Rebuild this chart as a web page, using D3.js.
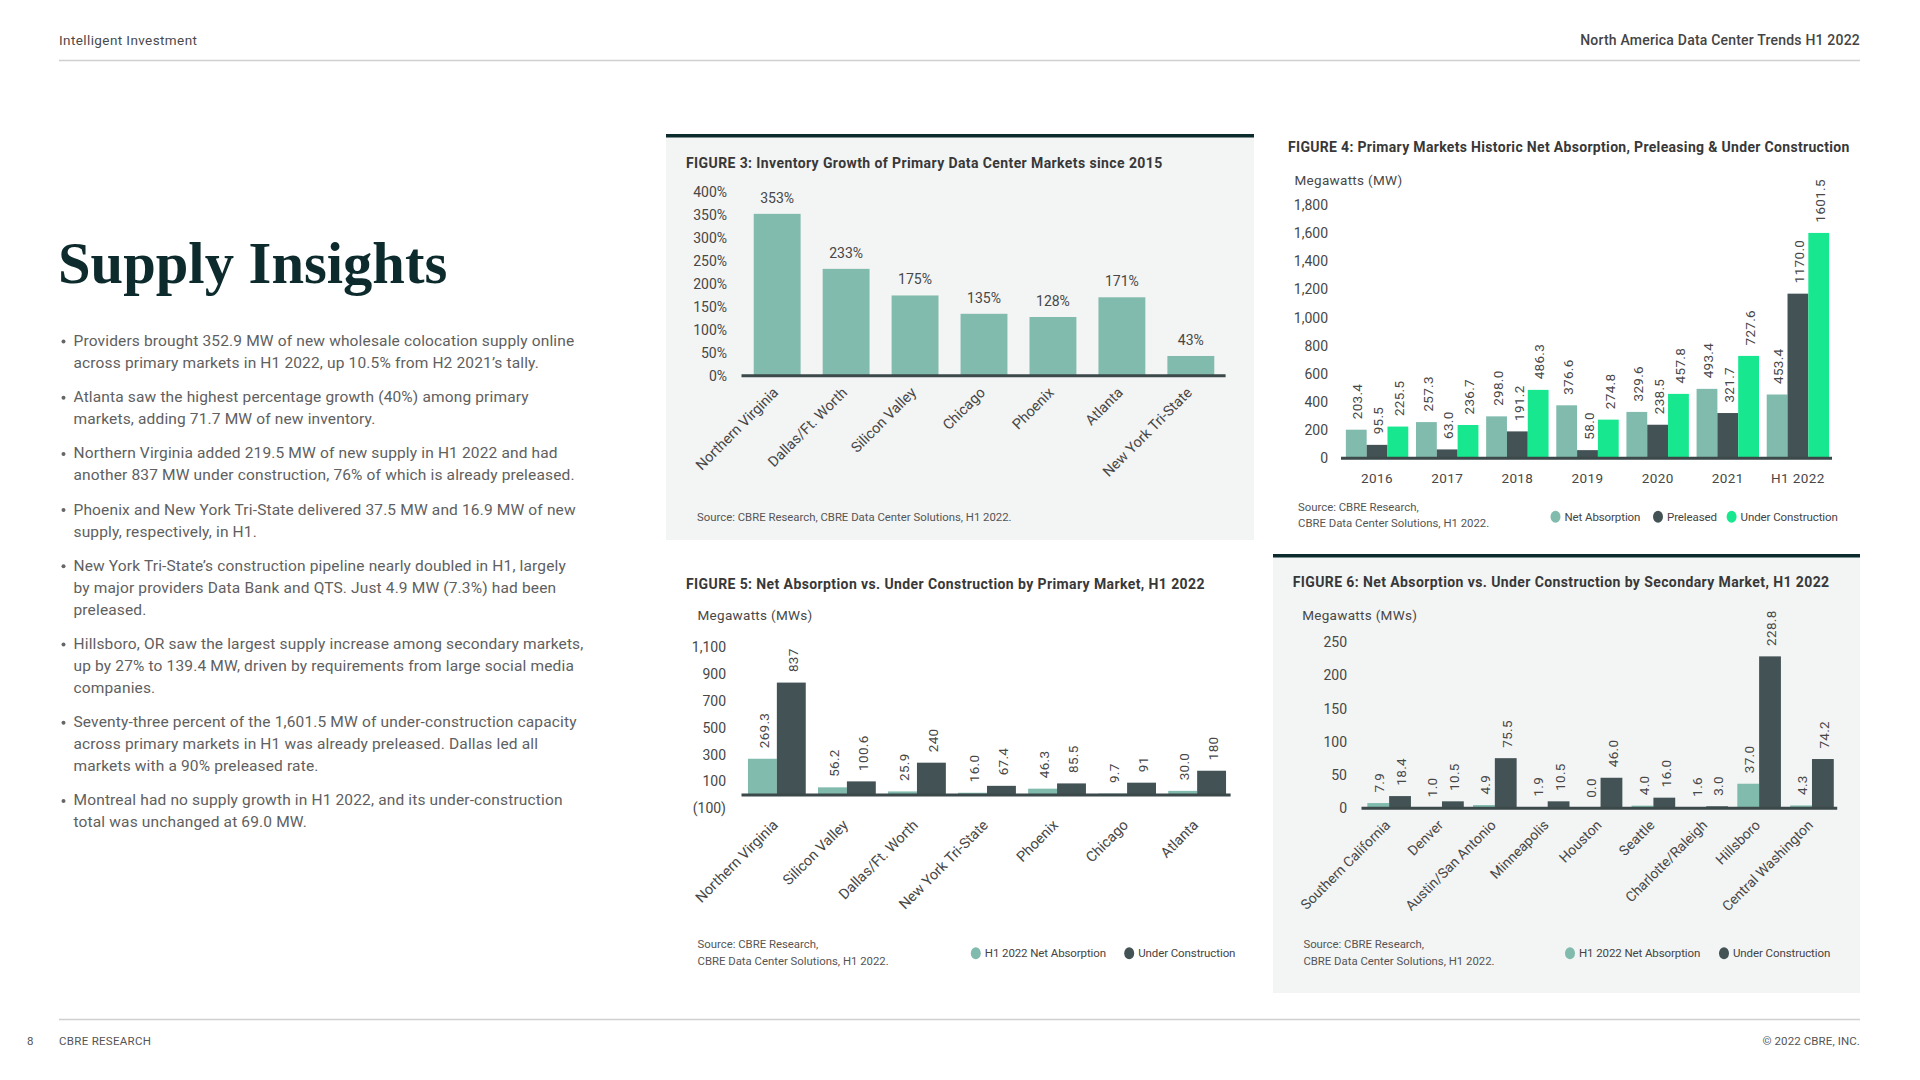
<!DOCTYPE html>
<html><head><meta charset="utf-8">
<script src="https://cdn.jsdelivr.net/npm/d3@7"></script>
<style>
html,body{margin:0;padding:0;background:#fff;}
svg{display:block;font-family:Roboto,"Noto Sans",sans-serif;}
</style></head><body>
<svg id="page" width="1920" height="1080"></svg>
<script>
// ---------- DATA ----------
const fig3Markets = ["Northern Virginia","Dallas/Ft. Worth","Silicon Valley","Chicago","Phoenix","Atlanta","New York Tri-State"];
const fig3Growth = [353,233,175,135,128,171,43];
const fig3Ticks = [0,50,100,150,200,250,300,350,400];

const fig4Periods = ["2016","2017","2018","2019","2020","2021","H1 2022"];
const fig4NetAbsorption = [203.4,257.3,298.0,376.6,329.6,493.4,453.4];
const fig4Preleased = [95.5,63.0,191.2,58.0,238.5,321.7,1170.0];
const fig4UnderConstruction = [225.5,236.7,486.3,274.8,457.8,727.6,1601.5];
const fig4Ticks = [0,200,400,600,800,1000,1200,1400,1600,1800];
const fig4Legend = ["Net Absorption","Preleased","Under Construction"];

const fig5Markets = ["Northern Virginia","Silicon Valley","Dallas/Ft. Worth","New York Tri-State","Phoenix","Chicago","Atlanta"];
const fig5NetAbsorption = [269.3,56.2,25.9,16.0,46.3,9.7,30.0];
const fig5UnderConstruction = [837,100.6,240,67.4,85.5,91,180];
const fig5Ticks = [-100,100,300,500,700,900,1100];

const fig6Markets = ["Southern California","Denver","Austin/San Antonio","Minneapolis","Houston","Seattle","Charlotte/Raleigh","Hillsboro","Central Washington"];
const fig6NetAbsorption = [7.9,1.0,4.9,1.9,0.0,4.0,1.6,37.0,4.3];
const fig6UnderConstruction = [18.4,10.5,75.5,10.5,46.0,16.0,3.0,228.8,74.2];
const fig6Ticks = [0,50,100,150,200,250];
const marketLegend = ["H1 2022 Net Absorption","Under Construction"];

const bullets = [
  ["Providers brought 352.9 MW of new wholesale colocation supply online","across primary markets in H1 2022, up 10.5% from H2 2021\u2019s tally."],
  ["Atlanta saw the highest percentage growth (40%) among primary","markets, adding 71.7 MW of new inventory."],
  ["Northern Virginia added 219.5 MW of new supply in H1 2022 and had","another 837 MW under construction, 76% of which is already preleased."],
  ["Phoenix and New York Tri-State delivered 37.5 MW and 16.9 MW of new","supply, respectively, in H1."],
  ["New York Tri-State\u2019s construction pipeline nearly doubled in H1, largely","by major providers Data Bank and QTS. Just 4.9 MW (7.3%) had been","preleased."],
  ["Hillsboro, OR saw the largest supply increase among secondary markets,","up by 27% to 139.4 MW, driven by requirements from large social media","companies."],
  ["Seventy-three percent of the 1,601.5 MW of under-construction capacity","across primary markets in H1 was already preleased. Dallas led all","markets with a 90% preleased rate."],
  ["Montreal had no supply growth in H1 2022, and its under-construction","total was unchanged at 69.0 MW."]
];

// ---------- STYLE ----------
const C_NA = "#80bbad", C_DARK = "#435254", C_UC = "#17e88f";
const C_AXIS = "#3c494a", C_TXT = "#474747", C_TITLE = "#383838", C_PANEL = "#f3f4f4", C_BAR = "#0b2b2d";
const FONT = "Roboto, 'Noto Sans', sans-serif";

const page = d3.select("#page");

function txt(g, x, y, s, o = {}) {
  const t = g.append("text").attr("x", x).attr("y", y).text(s)
    .attr("font-size", o.size || 13).attr("fill", o.fill || C_TXT)
    .attr("font-family", o.family || FONT);
  if (o.weight) t.attr("font-weight", o.weight);
  if (o.anchor) t.attr("text-anchor", o.anchor);
  if (o.ls != null) t.attr("letter-spacing", o.ls);
  return t;
}

// ---------- PAGE CHROME ----------
txt(page, 59, 44.5, "Intelligent Investment", {size: 13.5, fill: "#4a4a4a", ls: 0.4});
txt(page, 1860, 45, "North America Data Center Trends H1 2022", {size: 14, fill: "#444", weight: 500, anchor: "end", ls: 0.2});
page.append("line").attr("x1", 59).attr("x2", 1860).attr("y1", 60.5).attr("y2", 60.5).attr("stroke", "#cfcfcf").attr("stroke-width", 1.5);
page.append("line").attr("x1", 59).attr("x2", 1860).attr("y1", 1019.5).attr("y2", 1019.5).attr("stroke", "#cfcfcf").attr("stroke-width", 1.5);
txt(page, 27, 1045, "8", {size: 11.5, fill: "#555"});
txt(page, 59, 1045, "CBRE RESEARCH", {size: 11.5, fill: "#555", ls: 0.3});
txt(page, 1860, 1045, "\u00a9 2022 CBRE, INC.", {size: 11.5, fill: "#555", anchor: "end", ls: 0.1});

// ---------- LEFT COLUMN ----------
txt(page, 58, 283, "Supply Insights", {size: 58.6, fill: "#0d2b2d", weight: 700, family: "'Liberation Serif', 'DejaVu Serif', serif"});
let by = 346;
bullets.forEach(lines => {
  page.append("circle").attr("cx", 63.5).attr("cy", by - 4.5).attr("r", 2).attr("fill", "#666");
  lines.forEach((l, i) => txt(page, 73.5, by + i * 22, l, {size: 15.5, fill: "#606060", ls: 0.15}));
  by += lines.length * 22 + 12.2;
});

// ---------- PANELS ----------
page.append("rect").attr("x", 666).attr("y", 135).attr("width", 588).attr("height", 405).attr("fill", C_PANEL);
page.append("rect").attr("x", 666).attr("y", 134).attr("width", 588).attr("height", 3.5).attr("fill", C_BAR);
page.append("rect").attr("x", 1273).attr("y", 555).attr("width", 587).attr("height", 438).attr("fill", C_PANEL);
page.append("rect").attr("x", 1273).attr("y", 554).attr("width", 587).attr("height", 3.5).attr("fill", C_BAR);

// ---------- GENERIC BAR CHART ----------
function barChart(cfg) {
  const g = page.append("g");
  const x0 = d3.scaleBand().domain(cfg.categories).range(cfg.xRange).paddingInner(cfg.pi).paddingOuter(cfg.po);
  const x1 = d3.scaleBand().domain(cfg.series.map((s, i) => i)).range([0, x0.bandwidth()]);
  const y = d3.scaleLinear().domain(cfg.yDomain).range(cfg.yRange);

  txt(g, cfg.title[0], cfg.title[1], cfg.title[2], {size: 14, weight: 700, fill: C_TITLE, ls: cfg.titleLs != null ? cfg.titleLs : 0.4});
  if (cfg.unit) txt(g, cfg.unit[0], cfg.unit[1], cfg.unit[2], {size: 13.5, fill: C_TXT, ls: 0.3});

  // y axis (labels only)
  const ya = g.append("g").attr("transform", `translate(${cfg.tickX},0)`)
    .call(d3.axisLeft(y).tickValues(cfg.ticks).tickFormat(cfg.tickFmt).tickSize(0).tickPadding(0));
  ya.select(".domain").remove();
  ya.attr("font-family", FONT).attr("font-size", cfg.tickSize || 14);
  ya.selectAll("text").attr("fill", C_TXT);

  // bars
  cfg.series.forEach((s, i) => {
    const data = cfg.categories.map((c, j) => ({c, v: s.values[j]}));
    g.append("g").selectAll("rect").data(data).join("rect")
      .attr("x", d => x0(d.c) + x1(i))
      .attr("width", x1.bandwidth())
      .attr("y", d => y(Math.max(0, d.v)))
      .attr("height", d => Math.abs(y(d.v) - y(0)))
      .attr("fill", s.color);
    const lg = g.append("g").attr("font-family", FONT).attr("font-size", cfg.valSize || 14).attr("fill", C_TXT);
    if (cfg.rotateValues) {
      lg.selectAll("text").data(data).join("text")
        .attr("transform", d => `translate(${x0(d.c) + x1(i) + x1.bandwidth() / 2 + 1.5},${y(Math.max(0, d.v)) - 10.5}) rotate(-90)`)
        .attr("dy", "0.35em").attr("text-anchor", "start").attr("letter-spacing", 0.3)
        .text(d => s.fmt(d.v));
    } else {
      lg.selectAll("text").data(data).join("text")
        .attr("x", d => x0(d.c) + x1(i) + x1.bandwidth() / 2)
        .attr("y", d => y(Math.max(0, d.v)) - 16)
        .attr("dy", "0.35em").attr("text-anchor", "middle")
        .text(d => s.fmt(d.v));
    }
  });

  // baseline
  g.append("line").attr("x1", cfg.axisX[0]).attr("x2", cfg.axisX[1])
    .attr("y1", y(0)).attr("y2", y(0)).attr("stroke", C_AXIS).attr("stroke-width", 3);

  // category axis
  const xa = g.append("g").attr("transform", `translate(0,${cfg.catY})`)
    .call(d3.axisBottom(x0).tickSize(0).tickPadding(0));
  xa.select(".domain").remove();
  xa.attr("font-family", FONT).attr("font-size", cfg.catSize || 14.5);
  xa.selectAll("text").attr("fill", C_TXT);
  if (cfg.rotateCats) {
    xa.selectAll("text").attr("y", 0).attr("dy", 0).attr("x", 0)
      .attr("text-anchor", "end").attr("transform", "translate(2,0) rotate(-45)");
  } else {
    xa.selectAll("text").attr("y", 0).attr("dy", "0.35em").attr("letter-spacing", 0.4);
  }

  // source
  cfg.source.lines.forEach((l, i) => txt(g, cfg.source.x, cfg.source.y + i * 16.5, l, {size: 11.35, fill: "#555", ls: 0}));

  // legend
  if (cfg.legend) {
    cfg.legend.items.forEach((it, i) => {
      const lx = cfg.legend.xs[i];
      g.append("ellipse").attr("cx", lx).attr("cy", cfg.legend.y).attr("rx", 5).attr("ry", 6).attr("fill", it.color);
      txt(g, lx + 9, cfg.legend.y + 4, it.label, {size: 11.5, fill: "#444", ls: -0.1});
    });
  }
}

const one = v => v.toFixed(1);
const sourceOne = ["Source: CBRE Research, CBRE Data Center Solutions, H1 2022."];
const sourceTwo = ["Source: CBRE Research,", "CBRE Data Center Solutions, H1 2022."];

// FIGURE 3
barChart({
  title: [686, 168, "FIGURE 3: Inventory Growth of Primary Data Center Markets since 2015"],
  categories: fig3Markets,
  series: [{values: fig3Growth, color: C_NA, fmt: v => v + "%"}],
  xRange: [742, 1226], pi: 0.32, po: 0.17,
  yDomain: [0, 400], yRange: [375.7, 192.3],
  ticks: fig3Ticks, tickFmt: d => d + "%", tickX: 727,
  axisX: [741.5, 1225.6],
  catY: 393.5, rotateCats: true,
  source: {x: 697, y: 520.5, lines: sourceOne}
});

// FIGURE 4
barChart({
  title: [1288, 152, "FIGURE 4: Primary Markets Historic Net Absorption, Preleasing & Under Construction"],
  titleLs: 0.32,
  unit: [1294.5, 184.5, "Megawatts (MW)"],
  categories: fig4Periods,
  series: [
    {values: fig4NetAbsorption, color: C_NA, fmt: one},
    {values: fig4Preleased, color: C_DARK, fmt: one},
    {values: fig4UnderConstruction, color: C_UC, fmt: one}
  ],
  xRange: [1342, 1833], pi: 0.11, po: 0.055,
  yDomain: [0, 1800], yRange: [458.3, 205],
  ticks: fig4Ticks, tickFmt: d3.format(","), tickX: 1328,
  axisX: [1341, 1832],
  catY: 478.3, rotateCats: false, catSize: 13.5,
  rotateValues: true, valSize: 13.5,
  source: {x: 1298, y: 510.5, lines: sourceTwo},
  legend: {y: 516.7, xs: [1555.5, 1658, 1731.6],
    items: fig4Legend.map((l, i) => ({label: l, color: [C_NA, C_DARK, C_UC][i]}))}
});

// FIGURE 5
barChart({
  title: [686, 589, "FIGURE 5: Net Absorption vs. Under Construction by Primary Market, H1 2022"],
  unit: [697.5, 620, "Megawatts (MWs)"],
  categories: fig5Markets,
  series: [
    {values: fig5NetAbsorption, color: C_NA, fmt: one},
    {values: fig5UnderConstruction, color: C_DARK, fmt: v => Number.isInteger(v) ? String(v) : v.toFixed(1)}
  ],
  xRange: [742, 1232], pi: 0.175, po: 0.085,
  yDomain: [-100, 1100], yRange: [808.3, 647.3],
  ticks: fig5Ticks, tickFmt: d => d < 0 ? `(${-d})` : d3.format(",")(d), tickX: 726,
  axisX: [741.5, 1230.6],
  catY: 826, rotateCats: true,
  rotateValues: true, valSize: 13.5,
  source: {x: 697.5, y: 948, lines: sourceTwo},
  legend: {y: 953.3, xs: [975.8, 1129.2],
    items: marketLegend.map((l, i) => ({label: l, color: [C_NA, C_DARK][i]}))}
});

// FIGURE 6
barChart({
  title: [1292.7, 587, "FIGURE 6: Net Absorption vs. Under Construction by Secondary Market, H1 2022"],
  unit: [1302.2, 619.5, "Megawatts (MWs)"],
  categories: fig6Markets,
  series: [
    {values: fig6NetAbsorption, color: C_NA, fmt: one},
    {values: fig6UnderConstruction, color: C_DARK, fmt: one}
  ],
  xRange: [1362.7, 1838.4], pi: 0.175, po: 0.0875,
  yDomain: [0, 250], yRange: [808.3, 642.3],
  ticks: fig6Ticks, tickFmt: d => d, tickX: 1347,
  axisX: [1361.5, 1837.2],
  catY: 826, rotateCats: true, catSize: 14,
  rotateValues: true, valSize: 13.5,
  source: {x: 1303.4, y: 948, lines: sourceTwo},
  legend: {y: 953.3, xs: [1570, 1724],
    items: marketLegend.map((l, i) => ({label: l, color: [C_NA, C_DARK][i]}))}
});
</script>
</body></html>
